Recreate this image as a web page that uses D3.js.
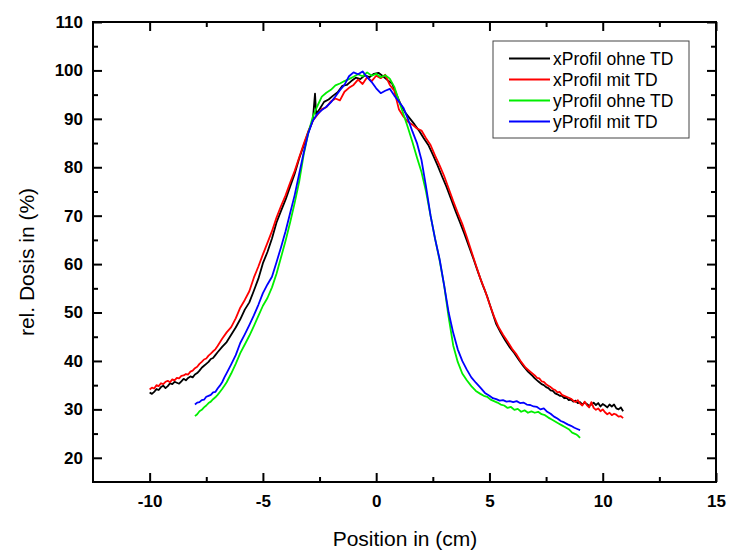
<!DOCTYPE html>
<html><head><meta charset="utf-8">
<script src="https://cdn.jsdelivr.net/npm/d3@7"></script>
<style>
body{margin:0;background:#fff;}
svg{display:block;font-family:"Liberation Sans",Arial,sans-serif;}
</style></head>
<body><svg id="c" width="729" height="550"></svg>
<script>
const seriesNames = ["xProfil ohne TD","xProfil mit TD","yProfil ohne TD","yProfil mit TD"];
const seriesColors = ["#000000","#ff0000","#00ee00","#0000ff"];
const xMajorTicks = [-10,-5,0,5,10,15];
const xMinorTicks = [-7.5,-2.5,2.5,7.5,12.5];
const yMajorTicks = [20,30,40,50,60,70,80,90,100,110];
const yMinorTicks = [25,35,45,55,65,75,85,95,105];

const xProfilOhneTD = [[-10,33.5],[-9.9,33.2],[-9.8,33.6],[-9.7,34.2],[-9.6,34.0],[-9.5,34.6],[-9.4,34.9],[-9.3,34.4],[-9.2,34.8],[-9.1,35.4],[-9.0,35.2],[-8.9,35.7],[-8.8,35.5],[-8.7,35.3],[-8.6,35.8],[-8.5,36.3],[-8.4,36.0],[-8.3,36.5],[-8.2,36.8],[-8.1,36.6],[-8.0,37.2],[-7.9,37.5],[-7.8,38.0],[-7.7,38.6],[-7.6,39.0],[-7.5,39.4],[-7.4,39.8],[-7.3,40.4],[-7.2,40.6],[-7.1,41.2],[-7.0,41.8],[-6.8,42.9],[-6.6,43.9],[-6.4,45.4],[-6.2,46.9],[-6.0,48.6],[-5.8,50.6],[-5.6,52.1],[-5.4,54.5],[-5.2,57.0],[-5.0,60.2],[-4.8,62.5],[-4.6,65.3],[-4.4,68.6],[-4.2,71.0],[-4.0,73.3],[-3.8,76.0],[-3.6,78.6],[-3.4,81.8],[-3.2,84.5],[-3.0,87.2],[-2.8,89.6],[-2.7,95.2],[-2.65,91.0],[-2.5,92.0],[-2.3,93.5],[-2.1,94.0],[-1.9,94.8],[-1.7,95.5],[-1.5,96.8],[-1.3,97.0],[-1.1,97.8],[-0.9,98.5],[-0.7,98.2],[-0.5,99.0],[-0.3,98.6],[-0.1,99.3],[0.1,99.5],[0.3,98.8],[0.5,98.0],[0.7,97.3],[0.9,95.0],[1.1,92.8],[1.3,91.2],[1.5,90.0],[1.7,88.8],[1.9,87.5],[2.1,86.0],[2.3,84.6],[2.5,82.6],[2.7,80.5],[2.9,78.2],[3.1,76.0],[3.3,73.5],[3.5,71.0],[3.7,68.6],[3.9,66.2],[4.1,63.6],[4.3,61.0],[4.5,58.3],[4.7,55.7],[4.9,53.3],[5.1,50.4],[5.3,47.6],[5.5,45.8],[5.7,44.2],[5.9,42.8],[6.1,41.6],[6.3,40.2],[6.5,38.9],[6.7,37.8],[6.9,36.9],[7.0,36.4],[7.1,36.0],[7.2,35.6],[7.3,35.2],[7.4,35.0],[7.5,34.6],[7.6,34.4],[7.7,33.9],[7.8,33.8],[7.9,33.3],[8.0,33.1],[8.1,32.8],[8.2,32.8],[8.3,32.3],[8.4,32.4],[8.5,31.9],[8.6,32.0],[8.7,31.6],[8.8,31.8],[8.9,31.3],[9.0,31.5],[9.1,31.0],[9.2,31.4],[9.3,31.1],[9.4,30.7],[9.5,31.0],[9.6,31.4],[9.7,30.9],[9.8,31.3],[9.9,30.6],[10.0,31.1],[10.1,30.8],[10.2,30.4],[10.3,31.0],[10.4,30.6],[10.5,31.0],[10.6,30.2],[10.7,30.0],[10.8,30.4],[10.9,29.6]];

const xProfilMitTD = [[-10,34.1],[-9.9,34.5],[-9.8,34.3],[-9.7,35.0],[-9.6,34.8],[-9.5,35.4],[-9.4,35.2],[-9.3,35.7],[-9.2,35.9],[-9.1,35.6],[-9.0,36.2],[-8.9,36.0],[-8.8,36.5],[-8.7,36.4],[-8.6,36.9],[-8.5,37.0],[-8.4,37.3],[-8.3,37.2],[-8.2,37.8],[-8.1,38.0],[-8.0,38.5],[-7.9,38.8],[-7.8,39.4],[-7.7,39.8],[-7.6,40.3],[-7.5,40.5],[-7.4,41.1],[-7.3,41.5],[-7.2,42.0],[-7.1,42.4],[-7.0,43.1],[-6.8,44.6],[-6.6,45.9],[-6.4,47.0],[-6.2,48.8],[-6.0,51.0],[-5.8,52.6],[-5.6,54.4],[-5.4,57.2],[-5.2,59.5],[-5.0,62.0],[-4.8,64.4],[-4.6,66.8],[-4.4,69.6],[-4.2,72.0],[-4.0,74.2],[-3.8,76.8],[-3.6,79.2],[-3.4,82.0],[-3.2,84.8],[-3.0,87.4],[-2.8,89.6],[-2.6,90.8],[-2.4,92.0],[-2.2,92.4],[-2.0,93.6],[-1.8,94.2],[-1.6,93.8],[-1.4,95.6],[-1.2,96.4],[-1.0,97.0],[-0.8,98.1],[-0.6,97.2],[-0.4,98.6],[-0.2,97.8],[0.0,98.9],[0.2,98.4],[0.4,99.1],[0.6,97.0],[0.8,95.8],[1.0,92.0],[1.2,90.5],[1.4,89.4],[1.6,88.8],[1.8,88.0],[2.0,87.6],[2.2,86.0],[2.4,84.6],[2.6,82.4],[2.8,80.4],[3.0,78.2],[3.2,75.6],[3.4,73.0],[3.6,70.6],[3.8,68.3],[4.0,65.6],[4.2,62.7],[4.4,59.8],[4.6,57.0],[4.8,54.6],[5.0,51.8],[5.2,49.2],[5.4,47.0],[5.6,45.4],[5.8,44.0],[6.0,42.5],[6.2,41.3],[6.4,39.8],[6.6,38.6],[6.8,37.8],[7.0,37.0],[7.1,36.5],[7.2,36.4],[7.3,35.8],[7.4,35.7],[7.5,35.2],[7.6,34.9],[7.7,34.6],[7.8,34.2],[7.9,34.0],[8.0,33.5],[8.1,33.6],[8.2,33.0],[8.3,32.8],[8.4,32.6],[8.5,32.4],[8.6,32.2],[8.7,31.8],[8.8,31.5],[8.9,31.9],[9.0,31.2],[9.1,30.8],[9.2,31.6],[9.3,30.9],[9.4,30.4],[9.5,31.5],[9.6,30.3],[9.7,29.9],[9.8,30.2],[9.9,29.6],[10.0,30.0],[10.1,29.4],[10.2,29.0],[10.3,29.3],[10.4,28.8],[10.5,29.1],[10.6,28.9],[10.7,28.5],[10.8,28.6],[10.9,28.2]];

const yProfilOhneTD = [[-8.0,28.6],[-7.9,29.0],[-7.8,29.6],[-7.7,29.9],[-7.6,30.4],[-7.5,30.8],[-7.4,31.3],[-7.3,31.6],[-7.2,32.1],[-7.1,32.5],[-7.0,33.0],[-6.9,33.6],[-6.8,34.2],[-6.7,34.9],[-6.6,35.6],[-6.4,37.4],[-6.2,39.4],[-6.0,41.6],[-5.8,43.4],[-5.6,45.2],[-5.4,47.2],[-5.2,49.3],[-5.0,51.4],[-4.8,53.0],[-4.6,55.2],[-4.4,58.0],[-4.2,61.4],[-4.0,64.8],[-3.8,68.6],[-3.6,72.6],[-3.4,77.0],[-3.2,82.6],[-3.0,87.0],[-2.8,90.4],[-2.6,92.6],[-2.4,94.6],[-2.2,95.4],[-2.0,96.0],[-1.8,96.9],[-1.6,97.3],[-1.4,97.8],[-1.2,98.2],[-1.0,98.7],[-0.8,99.2],[-0.6,98.8],[-0.4,99.6],[-0.2,98.9],[0.0,99.3],[0.2,98.6],[0.4,99.0],[0.6,98.3],[0.8,96.6],[1.0,93.8],[1.2,91.0],[1.4,88.2],[1.6,85.2],[1.8,82.0],[2.0,79.0],[2.2,75.0],[2.4,70.0],[2.6,65.2],[2.8,60.8],[3.0,55.6],[3.2,49.0],[3.4,43.2],[3.6,39.8],[3.8,37.4],[4.0,36.0],[4.2,34.8],[4.4,33.8],[4.6,33.2],[4.75,32.8],[4.9,32.6],[5.05,32.0],[5.2,31.7],[5.35,31.4],[5.5,31.0],[5.65,30.8],[5.8,30.3],[5.95,30.5],[6.1,29.9],[6.25,30.1],[6.4,29.5],[6.55,29.8],[6.7,29.3],[6.85,29.6],[7.0,29.3],[7.15,29.5],[7.3,29.0],[7.45,28.8],[7.6,28.3],[7.75,27.9],[7.9,27.5],[8.05,27.1],[8.2,26.7],[8.35,26.3],[8.5,25.9],[8.65,25.2],[8.8,24.9],[8.9,24.6],[9.0,24.1]];

const yProfilMitTD = [[-8.0,31.0],[-7.9,31.4],[-7.8,31.5],[-7.7,31.9],[-7.6,32.0],[-7.5,32.6],[-7.4,32.8],[-7.3,33.0],[-7.2,33.5],[-7.1,33.6],[-7.0,34.3],[-6.9,34.9],[-6.8,35.6],[-6.7,36.6],[-6.6,37.5],[-6.4,39.3],[-6.2,41.2],[-6.0,43.7],[-5.8,45.5],[-5.6,47.4],[-5.4,49.4],[-5.2,51.6],[-5.0,54.0],[-4.8,55.8],[-4.6,57.4],[-4.4,60.4],[-4.2,63.5],[-4.0,66.8],[-3.8,70.5],[-3.6,74.2],[-3.4,78.6],[-3.2,83.0],[-3.0,87.0],[-2.8,89.6],[-2.6,91.0],[-2.4,91.8],[-2.2,92.5],[-2.0,93.4],[-1.8,94.6],[-1.6,95.9],[-1.4,97.0],[-1.2,98.8],[-1.0,99.6],[-0.8,99.2],[-0.6,99.8],[-0.4,98.6],[-0.2,97.6],[0.0,96.3],[0.2,95.3],[0.4,95.8],[0.6,96.2],[0.8,94.8],[1.0,93.6],[1.2,92.3],[1.4,90.0],[1.6,87.4],[1.8,85.0],[2.0,81.5],[2.2,76.0],[2.4,70.0],[2.6,65.2],[2.8,61.0],[3.0,55.6],[3.2,50.0],[3.4,45.8],[3.6,42.4],[3.8,40.0],[4.0,38.2],[4.2,36.6],[4.4,35.5],[4.6,34.5],[4.8,33.4],[5.0,32.8],[5.15,32.3],[5.3,32.1],[5.45,31.8],[5.6,31.9],[5.75,31.6],[5.9,31.7],[6.05,31.5],[6.2,31.7],[6.35,31.3],[6.5,31.4],[6.65,31.0],[6.8,30.9],[6.95,30.6],[7.1,30.5],[7.25,30.0],[7.4,30.2],[7.55,29.5],[7.7,29.1],[7.85,28.5],[8.0,28.1],[8.15,27.6],[8.3,27.3],[8.45,26.9],[8.6,26.6],[8.75,26.2],[8.9,25.9],[9.0,25.7]];

const allSeries = [xProfilOhneTD, xProfilMitTD, yProfilOhneTD, yProfilMitTD];

const svg = d3.select("#c");
const L = 93, T = 22, R = 716, B = 482;
const x = d3.scaleLinear().domain([-12.5, 15]).range([L, R]);
const y = d3.scaleLinear().domain([15, 110]).range([B, T]);

const line = d3.line().x(d => x(d[0])).y(d => y(d[1]));
allSeries.forEach((s, i) => {
  svg.append("path").datum(s).attr("d", line)
    .attr("fill", "none").attr("stroke", seriesColors[i])
    .attr("stroke-width", 1.8).attr("stroke-linejoin", "round");
});

function styleAxis(g, bold){
  g.select(".domain").remove();
  g.selectAll(".tick line").attr("stroke", "#000").attr("stroke-width", 2);
  g.selectAll("text").attr("fill", "#000").attr("font-size", 17).attr("font-weight", bold ? "bold" : "normal").attr("font-family", "Liberation Sans, Arial, sans-serif");
}
const gb = svg.append("g").attr("transform", `translate(0,${B})`)
  .call(d3.axisBottom(x).tickValues(xMajorTicks).tickSize(-9).tickPadding(13).tickFormat(d3.format("d")));
styleAxis(gb, true);
gb.selectAll("text").text(d => d < 0 ? "-" + Math.abs(d) : d);
const gbm = svg.append("g").attr("transform", `translate(0,${B})`)
  .call(d3.axisBottom(x).tickValues(xMinorTicks).tickSize(-5).tickFormat(""));
styleAxis(gbm, false);
const gt = svg.append("g").attr("transform", `translate(0,${T})`)
  .call(d3.axisTop(x).tickValues(xMajorTicks).tickSize(-9).tickFormat(""));
styleAxis(gt, false);
const gtm = svg.append("g").attr("transform", `translate(0,${T})`)
  .call(d3.axisTop(x).tickValues(xMinorTicks).tickSize(-5).tickFormat(""));
styleAxis(gtm, false);
const gl = svg.append("g").attr("transform", `translate(${L},0)`)
  .call(d3.axisLeft(y).tickValues(yMajorTicks).tickSize(-9).tickPadding(10).tickFormat(d3.format("d")));
styleAxis(gl, true);
const glm = svg.append("g").attr("transform", `translate(${L},0)`)
  .call(d3.axisLeft(y).tickValues(yMinorTicks).tickSize(-5).tickFormat(""));
styleAxis(glm, false);
const gr = svg.append("g").attr("transform", `translate(${R},0)`)
  .call(d3.axisRight(y).tickValues(yMajorTicks).tickSize(-9).tickFormat(""));
styleAxis(gr, false);
const grm = svg.append("g").attr("transform", `translate(${R},0)`)
  .call(d3.axisRight(y).tickValues(yMinorTicks).tickSize(-5).tickFormat(""));
styleAxis(grm, false);

svg.append("rect").attr("x", L).attr("y", T).attr("width", R - L).attr("height", B - T)
  .attr("fill", "none").attr("stroke", "#000").attr("stroke-width", 2);

svg.append("text").attr("x", 405).attr("y", 546).attr("text-anchor", "middle")
  .attr("font-size", 21).attr("fill", "#000").text("Position in (cm)");
svg.append("text").attr("transform", `translate(34,262) rotate(-90)`).attr("text-anchor", "middle")
  .attr("font-size", 21).attr("fill", "#000").text("rel. Dosis in (%)");

const lg = svg.append("g");
lg.append("rect").attr("x", 493).attr("y", 41).attr("width", 196).attr("height", 97)
  .attr("fill", "#fff").attr("stroke", "#444").attr("stroke-width", 1);
seriesNames.forEach((n, i) => {
  const yy = 58.5 + i * 21;
  lg.append("line").attr("x1", 509).attr("x2", 550).attr("y1", yy).attr("y2", yy)
    .attr("stroke", seriesColors[i]).attr("stroke-width", 1.8);
  lg.append("text").attr("x", 553).attr("y", yy).attr("dy", "0.35em")
    .attr("font-size", 17.5).attr("fill", "#000").text(n);
});
</script></body></html>
